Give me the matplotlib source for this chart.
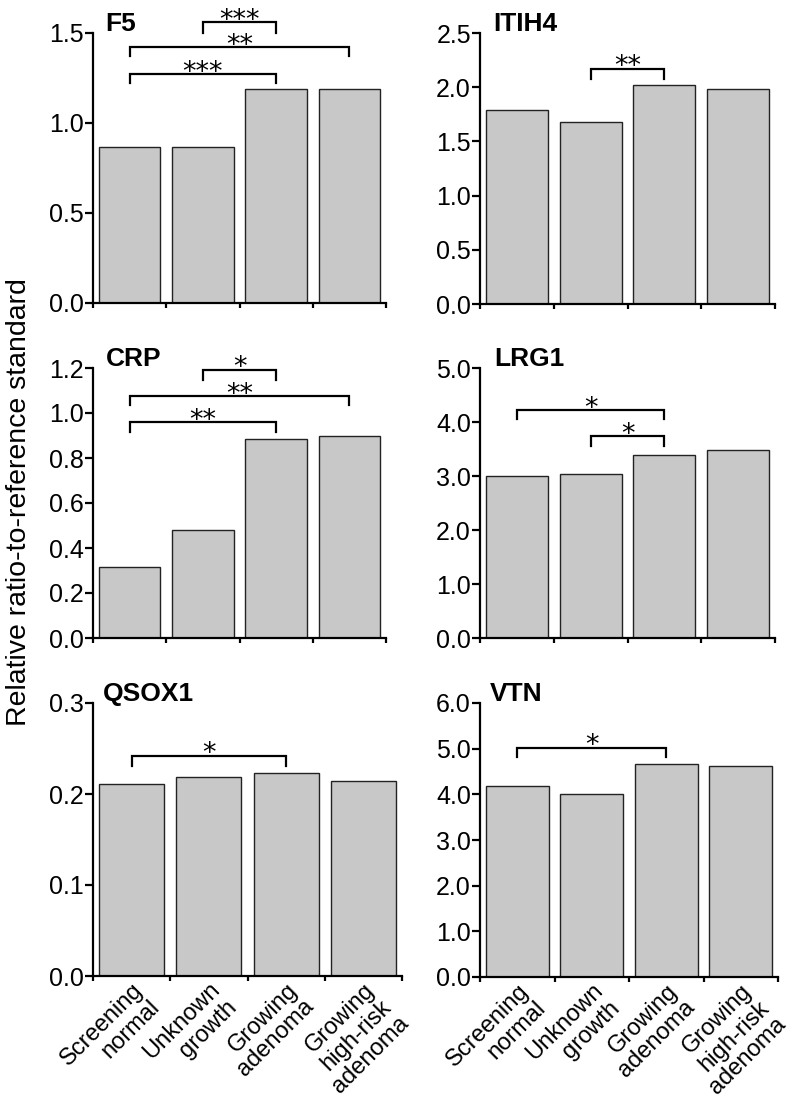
import matplotlib
matplotlib.use("Agg")
import matplotlib.pyplot as plt
from matplotlib.transforms import ScaledTranslation
from matplotlib.ticker import FormatStrFormatter

plt.rcParams['font.family'] = ['Liberation Sans', 'DejaVu Sans']

categories = ["Screening\nnormal", "Unknown\ngrowth", "Growing\nadenoma", "Growing\nhigh-risk\nadenoma"]

f5 = [0.866, 0.866, 1.19, 1.19]
itih4 = [1.79, 1.68, 2.02, 1.98]
crp = [0.317, 0.479, 0.884, 0.896]
lrg1 = [3.00, 3.03, 3.39, 3.49]
qsox1 = [0.211, 0.219, 0.223, 0.214]
vtn = [4.18, 4.00, 4.66, 4.63]

names = ["F5", "ITIH4", "CRP", "LRG1", "QSOX1", "VTN"]
values = [f5, itih4, crp, lrg1, qsox1, vtn]
ymax = [1.5, 2.5, 1.2, 5.0, 0.3, 6.0]
ystep = [0.5, 0.5, 0.2, 1.0, 0.1, 1.0]

# significance brackets: (group a, group b, bracket level, end-tick bottom, label)
brackets = {
    "F5": [(0, 2, 1.27, 1.22, "***"), (0, 3, 1.42, 1.37, "**"), (1, 2, 1.56, 1.50, "***")],
    "ITIH4": [(1, 2, 2.17, 2.08, "**")],
    "CRP": [(0, 2, 0.958, 0.917, "**"), (0, 3, 1.074, 1.034, "**"), (1, 2, 1.192, 1.147, "*")],
    "LRG1": [(0, 2, 4.22, 4.05, "*"), (1, 2, 3.74, 3.56, "*")],
    "QSOX1": [(0, 2, 0.242, 0.231, "*")],
    "VTN": [(0, 2, 5.02, 4.82, "*")],
}

W, H = 796, 1101
# axes boxes in pixels: (x0, x1, ytop, ybottom)
boxes = [(93, 386, 33, 303), (480, 775, 33, 304),
         (93, 386, 368, 638), (480, 775, 368, 638),
         (93, 402, 703, 976), (480, 778, 703, 977)]
title_x = [0.041, 0.044, 0.044, 0.05, 0.032, 0.034]

fig = plt.figure(figsize=(W / 100, H / 100), dpi=100)

for k, (name, vals) in enumerate(zip(names, values)):
    x0, x1, yt, yb = boxes[k]
    ax = fig.add_axes([x0 / W, 1 - yb / H, (x1 - x0) / W, (yb - yt) / H])
    xs = list(range(len(vals)))
    ax.bar(xs, vals, width=0.84, color="#c8c8c8", edgecolor="#222222", linewidth=1.0, zorder=2)
    ax.set_xlim(-0.5, len(vals) - 0.5)
    ax.set_ylim(0, ymax[k])
    n = int(round(ymax[k] / ystep[k]))
    ax.set_yticks([i * ystep[k] for i in range(n + 1)])
    ax.yaxis.set_major_formatter(FormatStrFormatter("%.1f"))
    for s in ("top", "right"):
        ax.spines[s].set_visible(False)
    for s in ("left", "bottom"):
        ax.spines[s].set_linewidth(1.6)
    ax.set_xticks([i - 0.5 for i in range(len(vals) + 1)])
    ax.set_xticklabels([])
    ax.tick_params(axis="x", which="major", direction="out", length=3.5, width=1.6)
    ax.tick_params(axis="y", direction="out", length=5.5, width=1.6, labelsize=18, pad=1)
    ax.set_xticks(xs, minor=True)
    if k >= 4:
        ax.set_xticklabels(categories, minor=True, rotation=45, ha="right", va="top",
                           rotation_mode="anchor", fontsize=17, multialignment="right",
                           linespacing=1.12)
        for lab in ax.get_xticklabels(minor=True):
            lab.set_transform(lab.get_transform() + ScaledTranslation(9 / 100, -2 / 100, fig.dpi_scale_trans))
    ax.tick_params(axis="x", which="minor", length=0, pad=2)

    ax.annotate(name, xy=(title_x[k], 1.0), xycoords="axes fraction", xytext=(0, 1.5),
                textcoords="offset points", ha="left", va="baseline",
                fontsize=19, fontweight="bold")

    for (a, b, yl, ybot, lab) in brackets[name]:
        ax.plot([a, a, b, b], [ybot, yl, yl, ybot], color="black", linewidth=1.6,
                solid_joinstyle="miter", clip_on=False, zorder=3)
        ax.annotate(lab, xy=((a + b) / 2, yl), xycoords="data", xytext=(0, -4.0),
                    textcoords="offset points", ha="center", va="baseline",
                    fontsize=19.5, family="DejaVu Sans", annotation_clip=False)

fig.text(19 / W, 1 - 502 / H, "Relative ratio-to-reference standard", rotation=90,
         ha="center", va="center", fontsize=20.5)

fig.savefig("out.png", dpi=100)
